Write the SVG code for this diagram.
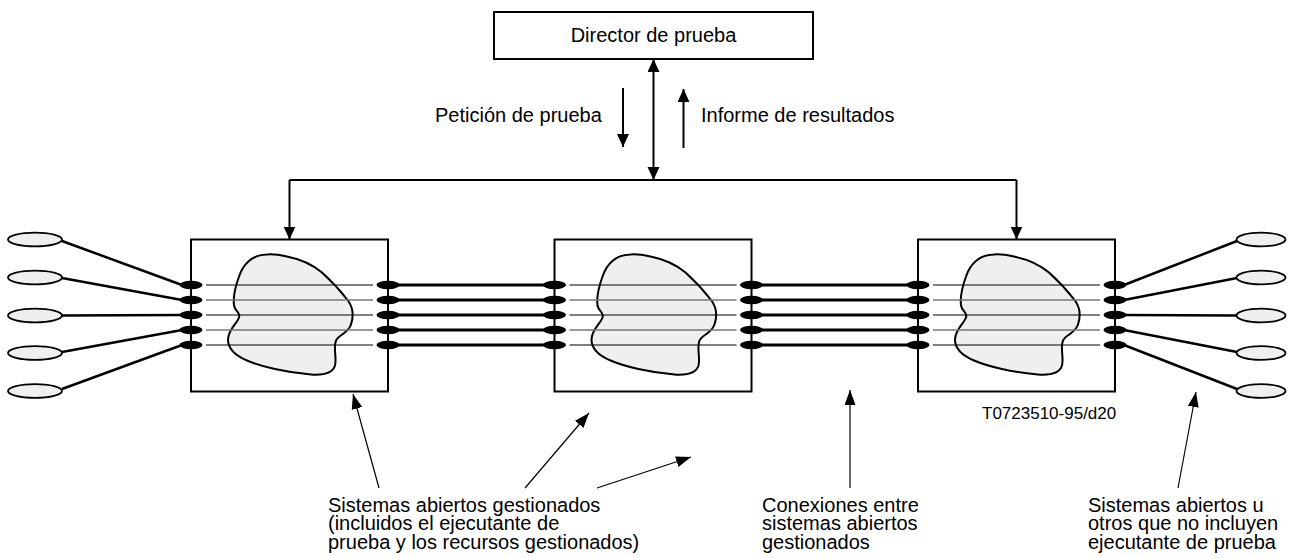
<svg xmlns="http://www.w3.org/2000/svg" width="1290" height="558" viewBox="0 0 1290 558">
<style>
text{font-family:"Liberation Sans",Arial,sans-serif;fill:#000}
.t20{font-size:20px}
.t17{font-size:17px}
.box{fill:#fff;stroke:#000;stroke-width:2}
.blob{fill:#efefef;stroke:#000;stroke-width:2}
.inb{stroke:#000;stroke-width:1}
.ing{stroke:#777;stroke-width:1.3}
.dot{fill:#000}
.thick{stroke:#000;stroke-width:3;fill:none}
.wire{stroke:#000;stroke-width:2.5;fill:none}
.oval{fill:#efefef;stroke:#000;stroke-width:1.8}
.conn{stroke:#000;stroke-width:2;fill:none}
.ptr{stroke:#000;stroke-width:1.2;fill:none}
</style>
<defs>
<marker id="ah" markerUnits="userSpaceOnUse" markerWidth="14" markerHeight="13" refX="13" refY="6" orient="auto-start-reverse">
<path d="M0,0 L13,6 L0,12 z" fill="#000"/>
</marker>
<marker id="ap" markerUnits="userSpaceOnUse" markerWidth="16" markerHeight="12" refX="15" refY="5.5" orient="auto">
<path d="M0,0 L15,5.5 L0,11 z" fill="#000"/>
</marker>
<path id="blobshape" d="M76,15 C61,15 52,25 48,37 C44,48 42,58 43,66 C44,72 50,73 48,78 C46,84 37,90 37,100 C37,110 44,116 56,121 C70,127 95,133 120,135 C135,136 142,133 144,126 C146,118 142,108 145,101 C148,95 157,94 160,85 C163,76 162,68 157,61 C150,52 141,42 131,33 C119,23 106,19 96,17 C87,15 82,14 76,15 Z"/>
<g id="inner">
<line class="inb" x1="15" y1="45.5" x2="182" y2="45.5"/>
<line class="ing" x1="15" y1="60.5" x2="182" y2="60.5"/>
<line class="inb" x1="15" y1="75.5" x2="182" y2="75.5"/>
<line class="ing" x1="15" y1="90.5" x2="182" y2="90.5"/>
<line class="inb" x1="15" y1="105.5" x2="182" y2="105.5"/>
</g>
<g id="dots">
<ellipse class="dot" cx="0" cy="45.5" rx="11.5" ry="4.2"/>
<ellipse class="dot" cx="0" cy="60.5" rx="11.5" ry="4.2"/>
<ellipse class="dot" cx="0" cy="75.5" rx="11.5" ry="4.2"/>
<ellipse class="dot" cx="0" cy="90.5" rx="11.5" ry="4.2"/>
<ellipse class="dot" cx="0" cy="105.5" rx="11.5" ry="4.2"/>
</g>
</defs>

<g id="director">
<rect class="box" x="494" y="12" width="319" height="47"/>
<text class="t20" x="653.5" y="42" text-anchor="middle">Director de prueba</text>
</g>

<g id="system1" transform="translate(191,239.5)">
<rect class="box" x="0" y="0" width="197" height="152"/>
<use href="#blobshape" class="blob"/>
<use href="#inner"/>
<use href="#dots"/>
<use href="#dots" x="197"/>
</g>
<g id="system2" transform="translate(554.5,239.5)">
<rect class="box" x="0" y="0" width="197" height="152"/>
<use href="#blobshape" class="blob"/>
<use href="#inner"/>
<use href="#dots"/>
<use href="#dots" x="197"/>
</g>
<g id="system3" transform="translate(918,239.5)">
<rect class="box" x="0" y="0" width="197" height="152"/>
<use href="#blobshape" class="blob"/>
<use href="#inner"/>
<use href="#dots"/>
<use href="#dots" x="197"/>
</g>

<g id="ovals-left">
<ellipse class="oval" cx="35" cy="239.5" rx="27" ry="6.8"/>
<ellipse class="oval" cx="35" cy="277.5" rx="27" ry="6.8"/>
<ellipse class="oval" cx="35" cy="315.5" rx="27" ry="6.8"/>
<ellipse class="oval" cx="35" cy="353" rx="27" ry="6.8"/>
<ellipse class="oval" cx="35" cy="391" rx="27" ry="6.8"/>
</g>
<g id="ovals-right">
<ellipse class="oval" cx="1261" cy="239.5" rx="24.5" ry="6.8"/>
<ellipse class="oval" cx="1261" cy="277.5" rx="24.5" ry="6.8"/>
<ellipse class="oval" cx="1261" cy="315.5" rx="24.5" ry="6.8"/>
<ellipse class="oval" cx="1261" cy="353" rx="24.5" ry="6.8"/>
<ellipse class="oval" cx="1261" cy="391" rx="24.5" ry="6.8"/>
</g>

<g id="connectors">
<line class="conn" x1="653.5" y1="180" x2="653.5" y2="59" marker-end="url(#ah)" marker-start="url(#ah)"/>
<polyline class="conn" points="289.5,180 1016.5,180"/>
<line class="conn" x1="289.5" y1="180" x2="289.5" y2="239.5" marker-end="url(#ah)"/>
<line class="conn" x1="1016.5" y1="180" x2="1016.5" y2="239.5" marker-end="url(#ah)"/>
<line class="conn" x1="623" y1="88" x2="623" y2="147" marker-end="url(#ah)"/>
<line class="conn" x1="683.5" y1="148" x2="683.5" y2="89" marker-end="url(#ah)"/>

<line class="wire" x1="62" y1="241" x2="182" y2="285"/>
<line class="wire" x1="62" y1="278" x2="182" y2="300"/>
<line class="wire" x1="62" y1="315.5" x2="182" y2="315"/>
<line class="wire" x1="62" y1="352" x2="182" y2="330"/>
<line class="wire" x1="62" y1="389" x2="182" y2="345"/>

<line class="wire" x1="1124" y1="285" x2="1237" y2="241"/>
<line class="wire" x1="1124" y1="300" x2="1237" y2="278"/>
<line class="wire" x1="1124" y1="315" x2="1237" y2="315.5"/>
<line class="wire" x1="1124" y1="330" x2="1237" y2="352"/>
<line class="wire" x1="1124" y1="345" x2="1237" y2="389"/>

<g class="thick">
<line x1="396" y1="285" x2="546" y2="285"/>
<line x1="396" y1="300" x2="546" y2="300"/>
<line x1="396" y1="315" x2="546" y2="315"/>
<line x1="396" y1="330" x2="546" y2="330"/>
<line x1="396" y1="345" x2="546" y2="345"/>
<line x1="759" y1="285" x2="910" y2="285"/>
<line x1="759" y1="300" x2="910" y2="300"/>
<line x1="759" y1="315" x2="910" y2="315"/>
<line x1="759" y1="330" x2="910" y2="330"/>
<line x1="759" y1="345" x2="910" y2="345"/>
</g>

<line class="ptr" x1="379" y1="488" x2="353" y2="394" marker-end="url(#ap)"/>
<line class="ptr" x1="525" y1="488" x2="589" y2="413" marker-end="url(#ap)"/>
<line class="ptr" x1="597" y1="488" x2="691" y2="457" marker-end="url(#ap)"/>
<line class="ptr" x1="850" y1="488" x2="850" y2="390" marker-end="url(#ap)"/>
<line class="ptr" x1="1178" y1="488" x2="1196" y2="392" marker-end="url(#ap)"/>
</g>

<g id="labels">
<text class="t20" x="435" y="122">Petición de prueba</text>
<text class="t20" x="701" y="122">Informe de resultados</text>
<text class="t17" x="982" y="419">T0723510-95/d20</text>
<text class="t20" x="328" y="511.5">Sistemas abiertos gestionados</text>
<text class="t20" x="328" y="530">(incluidos el ejecutante de</text>
<text class="t20" x="328" y="548.5">prueba y los recursos gestionados)</text>
<text class="t20" x="762" y="511.5">Conexiones entre</text>
<text class="t20" x="762" y="530">sistemas abiertos</text>
<text class="t20" x="762" y="548.5">gestionados</text>
<text class="t20" x="1088" y="511.5">Sistemas abiertos u</text>
<text class="t20" x="1088" y="530">otros que no incluyen</text>
<text class="t20" x="1088" y="548.5">ejecutante de prueba</text>
</g>
</svg>
